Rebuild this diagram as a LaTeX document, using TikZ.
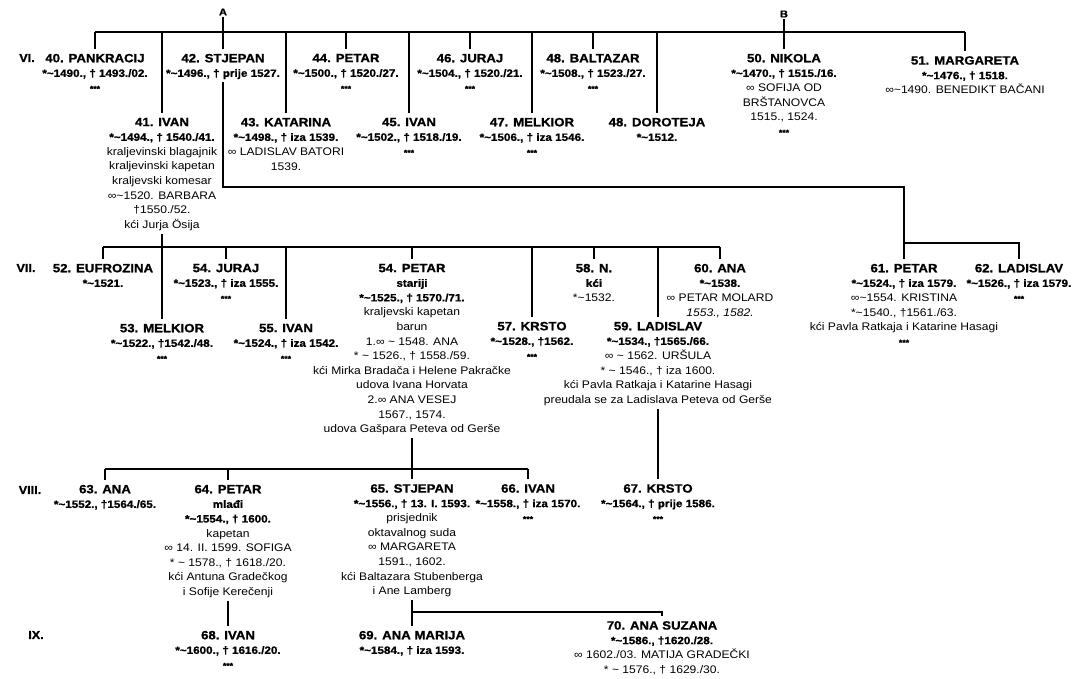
\documentclass[tikz,border=0pt]{standalone}
\usepackage{fontspec}
\setmainfont{Liberation Sans}[FakeStretch=1.1,BoldFeatures={FakeBold=1.1}]
\newcommand\apx{\textasciitilde}
\newcommand\nm[1]{{\fontsize{12}{14.6}\selectfont\bfseries #1}}
\newcommand\bd[1]{{\fontsize{10.6}{14.6}\selectfont\bfseries #1}}
\newcommand\stars{{\fontsize{8}{8}\selectfont\bfseries ***}}
\begin{document}
\begin{tikzpicture}[x=1pt,y=-1pt,
  person/.style={align=center,inner sep=0pt,anchor=north,font=\fontsize{11}{14.6}\selectfont},
  gen/.style={font=\fontsize{11.5}{14}\selectfont\bfseries,inner sep=0pt},
  lbl/.style={font=\fontsize{10}{10}\selectfont\bfseries,inner sep=0pt},
  ln/.style={line width=1.3pt,black}]
\fill[white] (0,0) rectangle (1073,679);
\useasboundingbox (0,0) rectangle (1073,679);

% generation labels
\node[gen] (g6) at (27,58) {VI.};
\node[gen] (g7) at (26,268) {VII.};
\node[gen] (g8) at (30,490) {VIII.};
\node[gen] (g9) at (36,635) {IX.};

\node[lbl] (A) at (223,12) {A};
\node[lbl] (B) at (784,14) {B};

% generation VI
\node[person] (p40) at (95,53.7) {\nm{40. PANKRACIJ}\\\bd{*\apx1490., † 1493./02.}\\\stars};
\node[person] (p42) at (223,53.7) {\nm{42. STJEPAN}\\\bd{*\apx1496., † prije 1527.}};
\node[person] (p44) at (346,53.7) {\nm{44. PETAR}\\\bd{*\apx1500., † 1520./27.}\\\stars};
\node[person] (p46) at (470,53.7) {\nm{46. JURAJ}\\\bd{*\apx1504., † 1520./21.}\\\stars};
\node[person] (p48) at (593,53.7) {\nm{48. BALTAZAR}\\\bd{*\apx1508., † 1523./27.}\\\stars};
\node[person] (p50) at (784,53.7) {\nm{50. NIKOLA}\\\bd{*\apx1470., † 1515./16.}\\∞ SOFIJA OD\\BRŠTANOVCA\\1515., 1524.\\\stars};
\node[person] (p51) at (965,56) {\nm{51. MARGARETA}\\\bd{*\apx1476., † 1518.}\\∞\apx1490. BENEDIKT BAČANI};

\node[person] (p41) at (162,117.7) {\nm{41. IVAN}\\\bd{*\apx1494., † 1540./41.}\\kraljevinski blagajnik\\kraljevinski kapetan\\kraljevski komesar\\∞\apx1520. BARBARA\\†1550./52.\\kći Jurja Ösija};
\node[person] (p43) at (286,117.7) {\nm{43. KATARINA}\\\bd{*\apx1498., † iza 1539.}\\∞ LADISLAV BATORI\\1539.};
\node[person] (p45) at (409,117.7) {\nm{45. IVAN}\\\bd{*\apx1502., † 1518./19.}\\\stars};
\node[person] (p47) at (532,117.7) {\nm{47. MELKIOR}\\\bd{*\apx1506., † iza 1546.}\\\stars};
\node[person] (p49) at (657,117.7) {\nm{48. DOROTEJA}\\\bd{*\apx1512.}};

% generation VII
\node[person] (p52) at (103,263.7) {\nm{52. EUFROZINA}\\\bd{*\apx1521.}};
\node[person] (p54j) at (226,263.7) {\nm{54. JURAJ}\\\bd{*\apx1523., † iza 1555.}\\\stars};
\node[person] (p54) at (412,263.7) {\nm{54. PETAR}\\\bd{stariji}\\\bd{*\apx1525., † 1570./71.}\\kraljevski kapetan\\barun\\1.∞ \apx{} 1548. ANA\\* \apx{} 1526., † 1558./59.\\kći Mirka Bradača i Helene Pakračke\\udova Ivana Horvata\\2.∞ ANA VESEJ\\1567., 1574.\\udova Gašpara Peteva od Gerše};
\node[person] (p58) at (594,263.7) {\nm{58. N.}\\\bd{kći}\\*\apx1532.};
\node[person] (p60) at (720,263.7) {\nm{60. ANA}\\\bd{*\apx1538.}\\∞ PETAR MOLARD\\\textit{1553., 1582.}};
\node[person] (p61) at (904,263.7) {\nm{61. PETAR}\\\bd{*\apx1524., † iza 1579.}\\∞\apx1554. KRISTINA\\*\apx1540., †1561./63.\\kći Pavla Ratkaja i Katarine Hasagi\\\stars};
\node[person] (p62) at (1019,263.7) {\nm{62. LADISLAV}\\\bd{*\apx1526., † iza 1579.}\\\stars};
\node[person] (p53) at (162,323.7) {\nm{53. MELKIOR}\\\bd{*\apx1522., †1542./48.}\\\stars};
\node[person] (p55) at (286,323.7) {\nm{55. IVAN}\\\bd{*\apx1524., † iza 1542.}\\\stars};
\node[person] (p57) at (532,321.7) {\nm{57. KRSTO}\\\bd{*\apx1528., †1562.}\\\stars};
\node[person] (p59) at (658,321.7) {\nm{59. LADISLAV}\\\bd{*\apx1534., †1565./66.}\\∞ \apx{} 1562. URŠULA\\* \apx{} 1546., † iza 1600.\\kći Pavla Ratkaja i Katarine Hasagi\\preudala se za Ladislava Peteva od Gerše};

% generation VIII
\node[person] (p63) at (105,484.7) {\nm{63. ANA}\\\bd{*\apx1552., †1564./65.}};
\node[person] (p64) at (228,484.7) {\nm{64. PETAR}\\\bd{mlađi}\\\bd{*\apx1554., † 1600.}\\kapetan\\∞ 14. II. 1599. SOFIGA\\* \apx{} 1578., † 1618./20.\\kći Antuna Gradečkog\\i Sofije Kerečenji};
\node[person] (p65) at (412,484) {\nm{65. STJEPAN}\\\bd{*\apx1556., † 13. I. 1593.}\\prisjednik\\oktavalnog suda\\∞ MARGARETA\\1591., 1602.\\kći Baltazara Stubenberga\\i Ane Lamberg};
\node[person] (p66) at (528,484) {\nm{66. IVAN}\\\bd{*\apx1558., † iza 1570.}\\\stars};
\node[person] (p67) at (658,484) {\nm{67. KRSTO}\\\bd{*\apx1564., † prije 1586.}\\\stars};

% generation IX
\node[person] (p68) at (228,630.7) {\nm{68. IVAN}\\\bd{*\apx1600., † 1616./20.}\\\stars};
\node[person] (p69) at (412,630.7) {\nm{69. ANA MARIJA}\\\bd{*\apx1584., † iza 1593.}};
\node[person] (p70) at (662,621) {\nm{70. ANA SUZANA}\\\bd{*\apx1586., †1620./28.}\\∞ 1602./03. MATIJA GRADEČKI\\* \apx{} 1576., † 1629./30.};

% helper levels
\coordinate (y6) at (0,32);
\coordinate (yS) at (0,187);
\coordinate (y61) at (0,243);
\coordinate (y7) at (0,247);
\coordinate (y8) at (0,469);
\coordinate (y9) at (0,612);

% connectors generation VI
\draw[ln] (p40.north |- y6) -- (p51.north |- y6);
\foreach \n in {p40,p44,p46,p48,p51,p41,p43,p45,p47,p49}
  \draw[ln] (\n.north |- y6) -- ([yshift=5pt]\n.north);
\draw[ln] ([yshift=-1pt]A.south) -- ([yshift=5pt]p42.north);
\draw[ln] ([yshift=-1pt]B.south) -- ([yshift=5pt]p50.north);

% Stjepan -> 61, 62
\draw[ln] ([yshift=-3pt]p42.south) -- (p42.south |- yS) -| ([yshift=5pt]p61.north);
\draw[ln] (p61.north |- y61) -| ([yshift=5pt]p62.north);

% Ivan -> generation VII
\draw[ln] ([yshift=-3pt]p41.south) -- ([yshift=5pt]p53.north);
\draw[ln] (p52.north |- y7) -- (p60.north |- y7);
\foreach \n in {p52,p54j,p55,p54,p57,p58,p59,p60}
  \draw[ln] (\n.north |- y7) -- ([yshift=5pt]\n.north);

% Petar -> generation VIII
\draw[ln] ([yshift=-3pt]p54.south) -- ([yshift=5pt]p65.north);
\draw[ln] (p63.north |- y8) -- (p66.north |- y8);
\foreach \n in {p63,p64,p66}
  \draw[ln] (\n.north |- y8) -- ([yshift=5pt]\n.north);
\draw[ln] ([yshift=-3pt]p59.south) -- ([yshift=5pt]p67.north);

% generation IX
\draw[ln] ([yshift=-3pt]p64.south) -- ([yshift=5pt]p68.north);
\draw[ln] ([yshift=-3pt]p65.south) -- ([yshift=5pt]p69.north);
\draw[ln] (p65.south |- y9) -| ([yshift=5pt]p70.north);
\end{tikzpicture}
\end{document}
